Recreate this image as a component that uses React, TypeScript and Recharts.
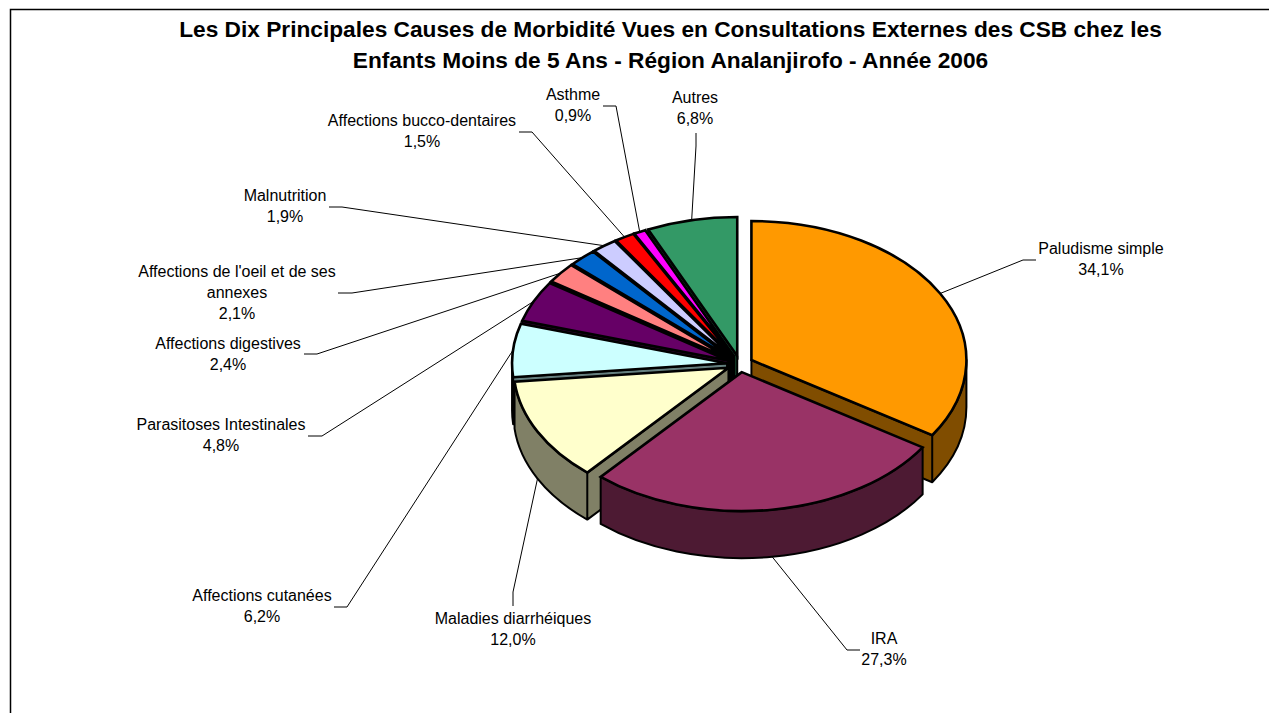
import React from 'react';
import { PieChart, Pie } from 'recharts';

const categories = [
  'Paludisme simple',
  'IRA',
  'Maladies diarrhéiques',
  'Affections cutanées',
  'Parasitoses Intestinales',
  'Affections digestives',
  "Affections de l'oeil et de ses annexes",
  'Malnutrition',
  'Affections bucco-dentaires',
  'Asthme',
  'Autres',
];
const values = [34.1, 27.3, 12.0, 6.2, 4.8, 2.4, 2.1, 1.9, 1.5, 0.9, 6.8];
const colors = [
  '#FF9900', '#993366', '#FFFFCC', '#CCFFFF', '#660066', '#FF8080',
  '#0066CC', '#CCCCFF', '#FF0000', '#FF00FF', '#339966',
];
const titleLines = [
  'Les Dix Principales Causes de Morbidité Vues en Consultations Externes des CSB chez les',
  'Enfants Moins de 5 Ans - Région Analanjirofo - Année 2006',
];

// label placement, same order as categories: text centre, first baseline, leader elbow, leader end
const labelLayout = [
  { x: 1101, y: 254, elbow: [1023, 260], end: [1036, 260] },
  { x: 884, y: 644, elbow: [847, 650], end: [860, 650] },
  { x: 513, y: 624, elbow: [513, 592], end: [513, 606] },
  { x: 262, y: 601, elbow: [347, 607], end: [334, 607] },
  { x: 221, y: 430, elbow: [322, 436], end: [308, 436] },
  { x: 228, y: 349, elbow: [317, 354], end: [304, 354] },
  { x: 237, y: 277, elbow: [352, 293], end: [338, 293], lines: ["Affections de l'oeil et de ses", 'annexes'] },
  { x: 285, y: 201, elbow: [342, 207], end: [329, 207] },
  { x: 422, y: 126, elbow: [532, 132], end: [519, 132] },
  { x: 573, y: 100, elbow: [616, 106], end: [603, 106] },
  { x: 695, y: 103, elbow: [696, 146], end: [696, 133] },
];

const W = 1269;
const H = 713;
const CX = 740;
const CY = 364;
const RX = 215;
const RY = 139;
const DEPTH = 47;
const EXPLODE_X = 13;
const EXPLODE_Y = 8.2;
const FONT = '"Liberation Sans", Arial, sans-serif';

const total = values.reduce((a, b) => a + b, 0);
const rows = categories.map((name, i) => ({ name, value: values[i], fill: colors[i], idx: i }));
// walls are painted back to front, so IRA has to come last: start at Paludisme and run counter-clockwise
const paintRows = [rows[0], ...rows.slice(1).reverse()];
const START = 90 - (values[0] / total) * 360;

const rad = (d: number) => (d * Math.PI) / 180;

const darken = (hex: string) => {
  const n = parseInt(hex.slice(1), 16);
  const half = (v: number) => Math.round(v / 2);
  return `rgb(${half((n >> 16) & 255)},${half((n >> 8) & 255)},${half(n & 255)})`;
};

const geom = (p: any) => {
  const ax = CX + EXPLODE_X * Math.cos(rad(p.midAngle));
  const ay = CY - EXPLODE_Y * Math.sin(rad(p.midAngle));
  const pt = (a: number, dy = 0): [number, number] => [
    ax + RX * Math.cos(rad(a)),
    ay - RY * Math.sin(rad(a)) + dy,
  ];
  return { ax, ay, pt };
};

const TopFace = (p: any) => {
  const { ax, ay, pt } = geom(p);
  const [x1, y1] = pt(p.startAngle);
  const [x2, y2] = pt(p.endAngle);
  const large = p.endAngle - p.startAngle > 180 ? 1 : 0;
  return (
    <path
      d={`M${ax},${ay}L${x1},${y1}A${RX},${RY} 0 ${large} 0 ${x2},${y2}Z`}
      fill={p.fill}
      stroke="#000"
      strokeWidth={2.6}
      strokeLinejoin="miter"
    />
  );
};

const Walls = (p: any) => {
  const { ax, ay, pt } = geom(p);
  const fill = darken(p.fill);
  const s = p.startAngle;
  const e = p.endAngle;
  const parts: string[] = [];
  const cut = (a: number) => {
    const [x, y] = pt(a);
    parts.push(`M${ax},${ay}L${x},${y}L${x},${y + DEPTH}L${ax},${ay + DEPTH}Z`);
  };
  if (Math.cos(rad(s)) > 0.001) cut(s);
  if (Math.cos(rad(e)) < -0.001) cut(e);
  // rim only shows on the lower half of the ellipse
  [[-180, 0], [180, 360]].forEach(([lo, hi]) => {
    const a1 = Math.max(s, lo);
    const a2 = Math.min(e, hi);
    if (a2 <= a1) return;
    const [x1, y1] = pt(a1);
    const [x2, y2] = pt(a2);
    parts.push(
      `M${x1},${y1}A${RX},${RY} 0 0 0 ${x2},${y2}L${x2},${y2 + DEPTH}A${RX},${RY} 0 0 1 ${x1},${y1 + DEPTH}Z`
    );
  });
  return <path d={parts.join('')} fill={fill} stroke="#000" strokeWidth={2} strokeLinejoin="round" />;
};

const percent = (v: number) => `${v.toFixed(1).replace('.', ',')}%`;

const renderLabel = (p: any) => {
  const row = p.payload ?? p;
  const i = row.idx;
  const layout = labelLayout[i];
  const { pt } = geom(p);
  const lower = Math.sin(rad(p.midAngle)) < 0;
  const [sx, sy] = pt(p.midAngle, lower ? DEPTH : 0);
  const lines = [...(layout.lines ?? [row.name]), percent(row.value)];
  return (
    <g key={row.name}>
      <polyline
        points={`${sx},${sy} ${layout.elbow.join(',')} ${layout.end.join(',')}`}
        fill="none"
        stroke="#000"
        strokeWidth={1}
      />
      <text x={layout.x} y={layout.y} textAnchor="middle" fontFamily={FONT} fontSize={16} fill="#000">
        {lines.map((t, k) => (
          <tspan key={k} x={layout.x} y={layout.y + k * 21}>
            {t}
          </tspan>
        ))}
      </text>
    </g>
  );
};

export default function App() {
  return (
    <div style={{ position: 'absolute', left: 0, top: 0, width: W, height: H, overflow: 'hidden', background: '#fff' }}>
      <PieChart width={W} height={H} margin={{ top: 0, right: 0, bottom: 0, left: 0 }}>
        <path d={`M10.5,${H}V9.5H${W}`} fill="none" stroke="#000" strokeWidth={1.5} />
        {titleLines.map((t, k) => (
          <text key={k} x={670.5} y={37 + k * 31} textAnchor="middle" fontFamily={FONT} fontWeight="bold" fontSize={22.7} fill="#000">
            {t}
          </text>
        ))}
        <Pie
          data={paintRows}
          dataKey="value"
          nameKey="name"
          cx={CX}
          cy={CY}
          outerRadius={RX}
          startAngle={START}
          endAngle={START + 360}
          shape={Walls}
          isAnimationActive={false}
          labelLine={false}
          label={false}
        />
        <Pie
          data={paintRows}
          dataKey="value"
          nameKey="name"
          cx={CX}
          cy={CY}
          outerRadius={RX}
          startAngle={START}
          endAngle={START + 360}
          shape={TopFace}
          isAnimationActive={false}
          labelLine={false}
          label={renderLabel}
        />
      </PieChart>
    </div>
  );
}
